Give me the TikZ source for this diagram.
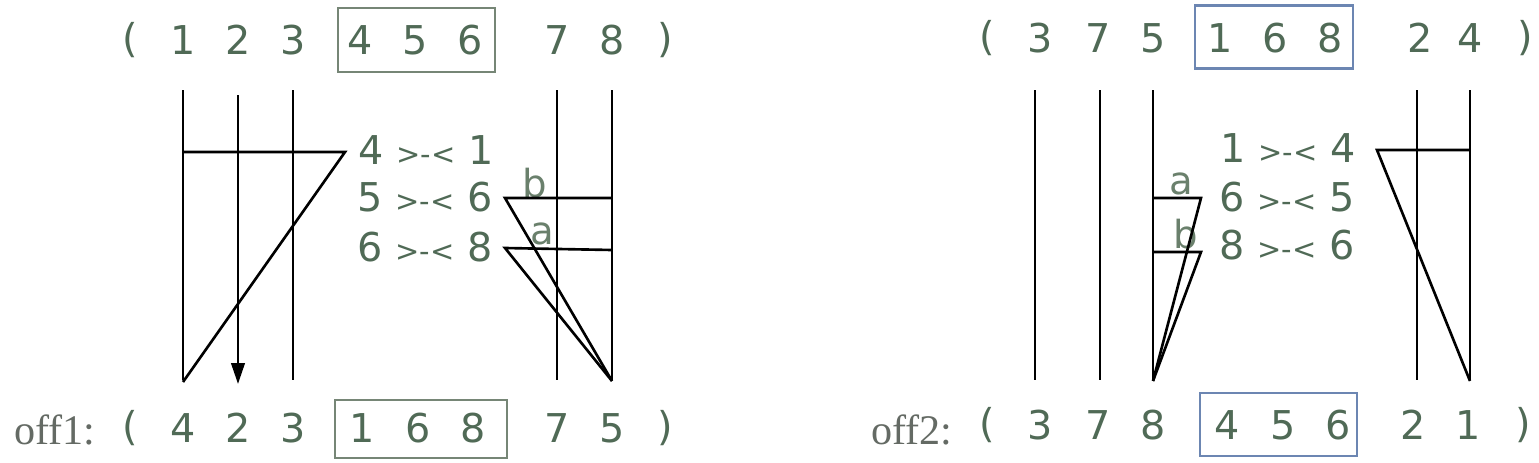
\documentclass[tikz,border=0pt]{standalone}
\usepackage{fontspec}
\setmainfont{DejaVu Sans}
\newfontfamily\offfont{Liberation Serif}
\usepackage{xcolor}
\usetikzlibrary{arrows.meta}
\definecolor{numgreen}{RGB}{80,106,86}
\definecolor{tagsoft}{RGB}{106,128,108}
\definecolor{offgray}{RGB}{100,106,100}
\definecolor{segleft}{RGB}{118,134,118}
\definecolor{segright}{RGB}{108,134,178}
\tikzset{
  permline/.style={line width=1.5pt, draw=black, line join=miter},
  permarr/.style={permline, -{Triangle[length=4.2mm, width=2.7mm]}},
  numnode/.style={font=\fontsize{22.6}{24}\selectfont, text=numgreen, inner sep=0pt},
  segbox/.style={draw, line width=1.2pt, inner sep=0pt},
}

\begin{document}
\begin{tikzpicture}[
  x=0.02cm, y=-0.02cm,
  pairlbl/.style={numnode},
  tag/.style={font=\fontsize{22}{23}\selectfont, text=tagsoft, inner sep=0pt},
  offlbl/.style={font=\offfont\fontsize{24}{26}\selectfont, text=offgray, inner sep=0pt},
]
  \useasboundingbox (0,0) rectangle (1539,463);
  % parent 1 and offspring 1
  \foreach \i/\x/\v in {1/183/1,2/238/2,3/293/3,4/360/4,5/415/5,6/470/6,7/557/7,8/612/8}
    \node[numnode] (pa\i) at (\x,40) {\v};
  \foreach \i/\x/\v in {1/183/4,2/238/2,3/293/3,4/362/1,5/418/6,6/473/8,7/557/7,8/612/5}
    \node[numnode] (oa\i) at (\x,428) {\v};
  \node[numnode] (paL) at (130,40) {(};
  \node[numnode] (paR) at (665,40) {)};
  \node[numnode] (oaL) at (130,428) {(};
  \node[numnode] (oaR) at (665,428) {)};
  \node[segbox, draw=segleft, minimum width=3.14cm, minimum height=1.28cm] (boxpa) at (416.5,40) {};
  \node[segbox, draw=segleft, minimum width=3.44cm, minimum height=1.16cm] (boxoa) at (421,429) {};
  \node[offlbl] (off1) at (55,430) {off1:};
  % parent 2 and offspring 2
  \foreach \i/\x/\v in {1/1040/3,2/1098/7,3/1153/5,4/1220/1,5/1275/6,6/1330/8,7/1420/2,8/1470/4}
    \node[numnode] (pb\i) at (\x,38) {\v};
  \foreach \i/\x/\v in {1/1040/3,2/1098/7,3/1153/8,4/1227/4,5/1283/5,6/1338/6,7/1413/2,8/1468/1}
    \node[numnode] (ob\i) at (\x,425) {\v};
  \node[numnode] (pbL) at (987,38) {(};
  \node[numnode] (pbR) at (1525,38) {)};
  \node[numnode] (obL) at (987,425) {(};
  \node[numnode] (obR) at (1523,425) {)};
  \node[segbox, draw=segright, minimum width=3.16cm, minimum height=1.26cm] (boxpb) at (1274,37) {};
  \node[segbox, draw=segright, minimum width=3.14cm, minimum height=1.26cm] (boxob) at (1278.5,424.5) {};
  \node[offlbl] (off2) at (912,430) {off2:};
  % mapping labels
  \node[pairlbl] (m41) at (426,150) {4 {\fontsize{16.5}{17}\selectfont>-<} 1};
  \node[pairlbl] (m56) at (425,197) {5 {\fontsize{16.5}{17}\selectfont>-<} 6};
  \node[pairlbl] (m68) at (425,247) {6 {\fontsize{16.5}{17}\selectfont>-<} 8};
  \node[pairlbl] (m14) at (1288,148) {1 {\fontsize{16.5}{17}\selectfont>-<} 4};
  \node[pairlbl] (m65) at (1287,197) {6 {\fontsize{16.5}{17}\selectfont>-<} 5};
  \node[pairlbl] (m86) at (1287,245) {8 {\fontsize{16.5}{17}\selectfont>-<} 6};
  \node[tag] (tb1) at (535,183) {b};
  \node[tag] (ta1) at (542,234) {a};
  \node[tag] (ta2) at (1181,184) {a};
  \node[tag] (tb2) at (1186,234) {b};
  % lines, left
  \foreach \x in {183,293,557,612}
    \draw[permline] (\x,90) -- (\x,380);
  \draw[permarr] (238,95) -- (238,384);
  \draw[permline] (183,152) -- (345,152) -- (183,382);
  \draw[permline] (612,198) -- (505,198) -- (612,381);
  \draw[permline] (612,250) -- (505,248) -- (612,381);
  % lines, right
  \foreach \x in {1035,1100,1153,1417,1470}
    \draw[permline] (\x,90) -- (\x,380);
  \draw[permline] (1153,198) -- (1201,198) -- (1153,381);
  \draw[permline] (1153,252) -- (1201,252) -- (1153,381);
  \draw[permline] (1470,150) -- (1377,150) -- (1470,381);
\end{tikzpicture}
\end{document}
